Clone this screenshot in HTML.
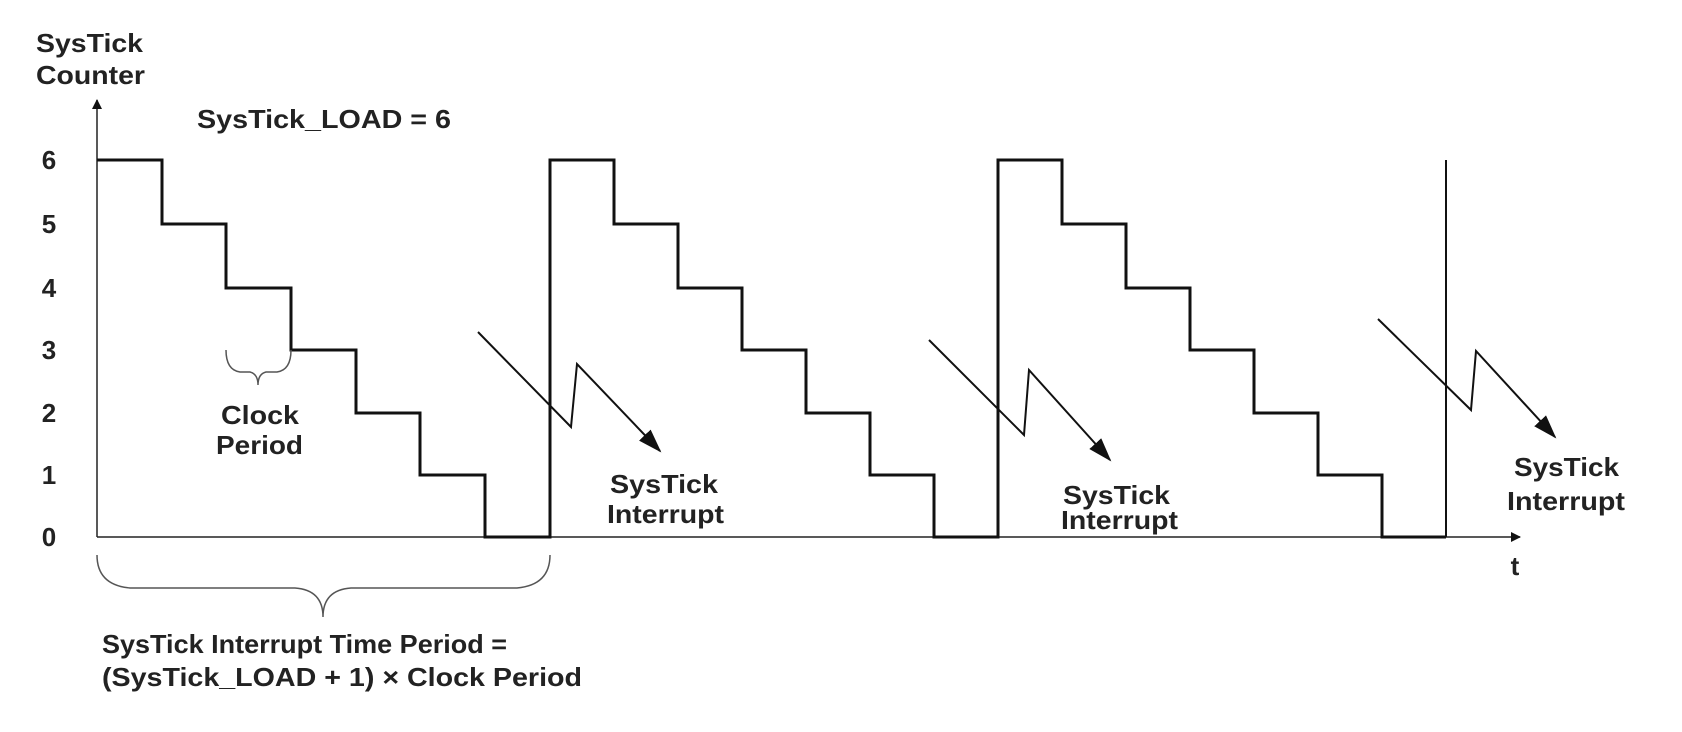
<!DOCTYPE html>
<html><head><style>
html,body{margin:0;padding:0;background:#fff;}
svg{display:block;}
text{font-family:"Liberation Sans",Arial,sans-serif;font-weight:bold;fill:#222;font-size:26px;}
</style></head><body>
<svg width="1682" height="732" viewBox="0 0 1682 732" xmlns="http://www.w3.org/2000/svg">
<defs>
<marker id="ah" markerWidth="10" markerHeight="10" refX="9" refY="5" orient="auto" markerUnits="userSpaceOnUse"><path d="M0,0 L10,5 L0,10 z" fill="#111"/></marker>
<marker id="big" markerWidth="24" markerHeight="20" refX="22" refY="10" orient="auto" markerUnits="userSpaceOnUse"><path d="M0,2 L24,10 L0,18 z" fill="#111"/></marker>
</defs>
<line x1="97" y1="537" x2="97" y2="100" stroke="#222" stroke-width="1.5" marker-end="url(#ah)"/>
<line x1="97" y1="537" x2="1520" y2="537" stroke="#222" stroke-width="1.5" marker-end="url(#ah)"/>
<polyline fill="none" stroke="#111" stroke-width="3" points="
97,160 162,160 162,224 226,224 226,288 291,288 291,350 356,350 356,413 420,413 420,475 485,475 485,537 550,537 550,160
614,160 614,224 678,224 678,288 742,288 742,350 806,350 806,413 870,413 870,475 934,475 934,537 998,537 998,160
1062,160 1062,224 1126,224 1126,288 1190,288 1190,350 1254,350 1254,413 1318,413 1318,475 1382,475 1382,537 1446,537"/>
<line x1="1446" y1="537" x2="1446" y2="160" stroke="#111" stroke-width="2"/>
<polyline fill="none" stroke="#111" stroke-width="2" points="478,332 571,427 577,364 660,451" marker-end="url(#big)"/>
<polyline fill="none" stroke="#111" stroke-width="2" points="929,340 1024,435 1029,370 1110,460" marker-end="url(#big)"/>
<polyline fill="none" stroke="#111" stroke-width="2" points="1378,319 1471,410 1476,351 1555,437" marker-end="url(#big)"/>
<path d="M226,350 Q226,370 240,372 L250,372 Q258,374 258,385 Q258,374 266,372 L277,372 Q291,370 291,350" fill="none" stroke="#555" stroke-width="1.5"/>
<path d="M97,555 Q97,585 130,588 L295,588 Q323,590 323,617 Q323,590 351,588 L517,588 Q550,585 550,555" fill="none" stroke="#555" stroke-width="1.5"/>
<g lengthAdjust="spacingAndGlyphs">
<text x="36" y="52" textLength="107" lengthAdjust="spacingAndGlyphs">SysTick</text>
<text x="36" y="84" textLength="109" lengthAdjust="spacingAndGlyphs">Counter</text>
<text x="197" y="128" textLength="254" lengthAdjust="spacingAndGlyphs">SysTick_LOAD = 6</text>
<text x="221" y="424" textLength="78" lengthAdjust="spacingAndGlyphs">Clock</text>
<text x="216" y="454" textLength="87" lengthAdjust="spacingAndGlyphs">Period</text>
<text x="610" y="493" textLength="108" lengthAdjust="spacingAndGlyphs">SysTick</text>
<text x="607" y="523" textLength="117" lengthAdjust="spacingAndGlyphs">Interrupt</text>
<text x="1063" y="504" textLength="107" lengthAdjust="spacingAndGlyphs">SysTick</text>
<text x="1061" y="529" textLength="117" lengthAdjust="spacingAndGlyphs">Interrupt</text>
<text x="1514" y="476" textLength="105" lengthAdjust="spacingAndGlyphs">SysTick</text>
<text x="1507" y="510" textLength="118" lengthAdjust="spacingAndGlyphs">Interrupt</text>
<text x="102" y="653" textLength="405" lengthAdjust="spacingAndGlyphs">SysTick Interrupt Time Period =</text>
<text x="102" y="686" textLength="480" lengthAdjust="spacingAndGlyphs">(SysTick_LOAD + 1) × Clock Period</text>
</g>
<g text-anchor="middle">
<text x="49" y="169">6</text><text x="49" y="233">5</text><text x="49" y="297">4</text>
<text x="49" y="359">3</text><text x="49" y="422">2</text><text x="49" y="484">1</text><text x="49" y="546">0</text>
<text x="1515" y="575">t</text>
</g>
</svg>
</body></html>
